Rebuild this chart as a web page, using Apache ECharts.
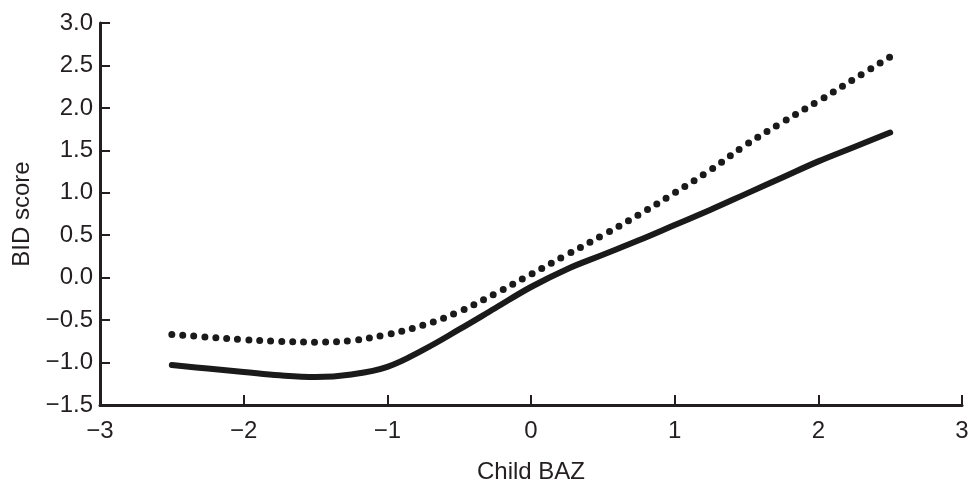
<!DOCTYPE html>
<html>
<head>
<meta charset="utf-8">
<script src="https://cdn.jsdelivr.net/npm/echarts@6/dist/echarts.min.js"></script>
<style>
html,body{margin:0;padding:0;background:#fff;}
#chart{width:970px;height:482px;}
</style>
</head>
<body>
<div id="chart"></div>
<script>
var xValues = [-2.5, -2.25, -2, -1.75, -1.5, -1.25, -1, -0.75, -0.5, -0.25, 0, 0.25, 0.5, 0.75, 1, 1.25, 1.5, 1.75, 2, 2.25, 2.5];
var solidValues = [-1.03, -1.07, -1.11, -1.15, -1.17, -1.14, -1.05, -0.85, -0.61, -0.36, -0.11, 0.10, 0.27, 0.44, 0.62, 0.80, 0.99, 1.18, 1.37, 1.54, 1.71];
var dottedValues = [-0.67, -0.70, -0.73, -0.75, -0.76, -0.74, -0.67, -0.56, -0.40, -0.19, 0.04, 0.27, 0.50, 0.74, 1.00, 1.27, 1.57, 1.83, 2.08, 2.34, 2.60];
var xTicks = {min: -3, max: 3, interval: 1};
var yTicks = {min: -1.5, max: 3, interval: 0.5};
var xName = 'Child BAZ';
var yName = 'BID score';

function pairs(xs, ys) { return xs.map(function (x, i) { return [x, ys[i]]; }); }
function minus(s) { return String(s).replace('-', '\u2212'); }

var axisColor = '#231f20';
var font = 'Arial';
var chart = echarts.init(document.getElementById('chart'));
chart.setOption({
  backgroundColor: '#ffffff',
  animation: false,
  grid: {left: 100, right: 8, top: 23, bottom: 77, containLabel: false, outerBoundsMode: 'none'},
  xAxis: {
    type: 'value', min: xTicks.min, max: xTicks.max, interval: xTicks.interval,
    name: xName, nameLocation: 'middle', nameGap: 55,
    nameTextStyle: {fontSize: 24, color: axisColor, fontFamily: font},
    axisLine: {onZero: false, lineStyle: {color: axisColor, width: 3}},
    axisTick: {inside: true, length: 10, lineStyle: {color: axisColor, width: 2}},
    axisLabel: {fontSize: 24, color: axisColor, fontFamily: font, margin: 14, formatter: function (v) { return minus(v); }},
    splitLine: {show: false}
  },
  yAxis: {
    type: 'value', min: yTicks.min, max: yTicks.max, interval: yTicks.interval,
    name: yName, nameLocation: 'middle', nameGap: 66,
    nameTextStyle: {fontSize: 24, color: axisColor, fontFamily: font},
    axisLine: {onZero: false, lineStyle: {color: axisColor, width: 3}},
    axisTick: {inside: true, length: 10, lineStyle: {color: axisColor, width: 2}},
    axisLabel: {fontSize: 24, color: axisColor, fontFamily: font, margin: 7, formatter: function (v) { return minus(v.toFixed(1)); }},
    splitLine: {show: false}
  },
  series: [
    {
      type: 'line', data: pairs(xValues, dottedValues), smooth: 0.4, symbol: 'none',
      lineStyle: {color: '#1a1a1a', width: 7, type: [0, 11], cap: 'round'}
    },
    {
      type: 'line', data: pairs(xValues, solidValues), smooth: 0.4, symbol: 'none',
      lineStyle: {color: '#1a1a1a', width: 6, cap: 'round'}
    }
  ]
});
</script>
</body>
</html>
